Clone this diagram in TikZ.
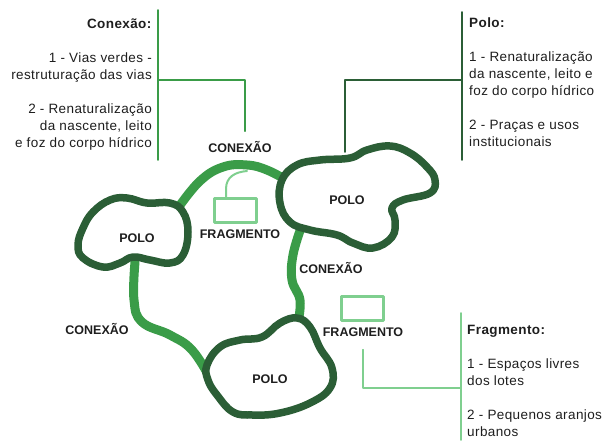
\documentclass[tikz,border=0pt]{standalone}
\usepackage{fontspec}
\setmainfont{Liberation Sans}
\usetikzlibrary{positioning}
\definecolor{verdeescuro}{HTML}{2B5E36}
\definecolor{verdemedio}{HTML}{3A9C48}
\definecolor{verdeclaro}{HTML}{7FCF8F}
\definecolor{texto}{HTML}{1E1E1E}
\begin{document}
\begin{tikzpicture}[x=1pt, y=-1pt, line join=round, line cap=round,
	polo/.style={draw=verdeescuro, line width=7.5pt, fill=white},
	conexao/.style={draw=verdemedio, line width=9pt},
	fragbox/.style={draw=verdeclaro, line width=3pt, minimum width=42pt, minimum height=24pt, inner sep=0pt},
	haste/.style={draw=verdeclaro, line width=2pt},
	rotulo/.style={font=\fontsize{12.5}{14}\selectfont\bfseries, text=texto, inner sep=0pt},
	legenda/.style={font=\fontsize{13.5}{17}\selectfont\addfontfeatures{LetterSpace=3}, text=texto, inner sep=0pt},
	linhaC/.style={draw=verdemedio, line width=1.6pt},
	linhaP/.style={draw=verdeescuro, line width=1.6pt},
	linhaF/.style={draw=verdeclaro, line width=1.6pt}]
	\useasboundingbox (0,0) rectangle (603,440);
	%\draw[color=gray!50,dashed] (0,0) grid[step=20] (603,440);
	% conexoes
	\draw[conexao] plot[smooth, tension=0.7] coordinates {(178,208) (200,181) (223,167) (247,165) (267,170) (288,181)};
	\draw[conexao] plot[smooth, tension=0.7] coordinates {(301,228) (293,255) (292,280) (300,300) (298,322)};
	\draw[conexao] plot[smooth, tension=0.7] coordinates {(135,262) (134,300) (142,322) (170,335) (192,350) (210,378)};
	% polos
	\draw[polo] plot[smooth cycle, tension=0.7] coordinates {(282,180) (297,165) (320,160) (350,158) (367,150) (390,146) (410,153) (427,167) (435,180) (430,193) (403,200) (392,208) (395,220) (392,237) (373,248) (353,243) (337,235) (310,230) (290,222) (280,203)};
	\draw[polo] plot[smooth cycle, tension=0.7] coordinates {(93,212) (110,200) (127,198) (147,203) (170,203) (183,212) (188,232) (183,255) (170,263) (150,260) (133,257) (120,263) (103,267) (83,258) (78,245) (83,228)};
	\draw[polo] plot[smooth cycle, tension=0.7] coordinates {(207,365) (220,347) (240,340) (262,337) (280,323) (297,318) (310,327) (320,348) (332,368) (330,388) (310,403) (280,413) (253,415) (233,412) (217,395) (208,380)};
	% fragmentos
	\node[fragbox] (r1) at (235,210) {};
	\node[fragbox] (r2) at (362,308.5) {};
	\draw[haste] (226,197) -- (226,189) .. controls (226,177) and (235,172) .. (247,171);
	% rotulos
	\node[rotulo] (p1) at (347,200) {POLO};
	\node[rotulo] (p2) at (137,238) {POLO};
	\node[rotulo] (p3) at (270,379) {POLO};
	\node[rotulo] (c1) at (240,147) {CONEXÃO};
	\node[rotulo] (c2) at (331,268) {CONEXÃO};
	\node[rotulo] (c3) at (97,329) {CONEXÃO};
	\node[rotulo] (f1) at (240,234) {FRAGMENTO};
	\node[rotulo] (f2) at (363,332) {FRAGMENTO};
	% legendas
	\node[legenda, align=right, anchor=base east] (legC) at (152,147.5) {\textbf{Conexão:}\\[17pt] 1 - Vias verdes -\\ restruturação das vias\\[17pt] 2 - Renaturalização\\ da nascente, leito\\ e foz do corpo hídrico};
	\node[legenda, align=left, anchor=base west] (legP) at (469,146.5) {\textbf{Polo:}\\[17pt] 1 - Renaturalização\\ da nascente, leito e\\ foz do corpo hídrico\\[17pt] 2 - Praças e usos\\ institucionais};
	\node[legenda, align=left, anchor=base west] (legF) at (467,436.5) {\textbf{Fragmento:}\\[17pt] 1 - Espaços livres\\ dos lotes\\[17pt] 2 - Pequenos aranjos\\ urbanos};
	\coordinate (cA) at (158,10); \coordinate (cB) at (158,160); \coordinate (cM) at (158,80);
	\draw[linhaC] (cA) -- (cB);
	\draw[linhaC] (cM) -| ([xshift=5pt, yshift=10pt]c1.north);
	\coordinate (pA) at (462,12); \coordinate (pB) at (462,160); \coordinate (pM) at (462,80);
	\draw[linhaP] (pA) -- (pB);
	\draw[linhaP] (pM) -| (345,152);
	\coordinate (fA) at (461,313); \coordinate (fB) at (461,440); \coordinate (fM) at (461,388);
	\draw[linhaF] (fA) -- (fB);
	\draw[linhaF] (fM) -| ([yshift=-13pt]f2.south);
\end{tikzpicture}
\end{document}
